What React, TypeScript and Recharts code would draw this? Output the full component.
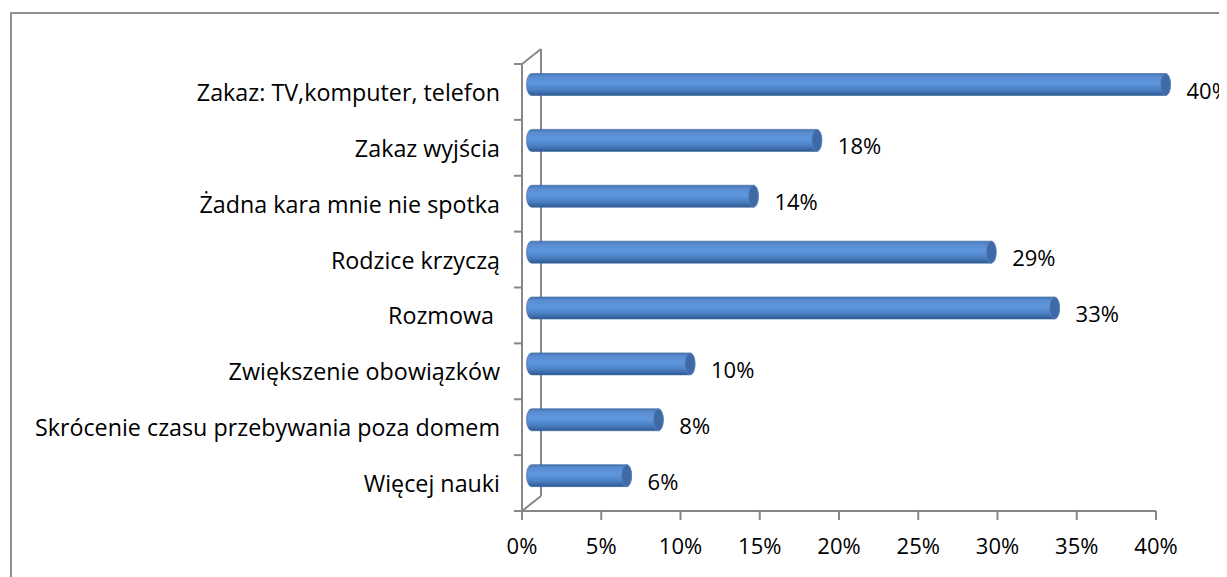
import { BarChart, Bar, XAxis, YAxis, LabelList, Customized } from 'recharts';

const categories = [
  'Zakaz: TV,komputer, telefon',
  'Zakaz wyjścia',
  'Żadna kara mnie nie spotka',
  'Rodzice krzyczą',
  'Rozmowa ',
  'Zwiększenie obowiązków',
  'Skrócenie czasu przebywania poza domem',
  'Więcej nauki',
];
const values = [40, 18, 14, 29, 33, 10, 8, 6];
const xTicks = [0, 5, 10, 15, 20, 25, 30, 35, 40];

const data = categories.map((name, i) => ({ name, value: values[i] }));

const W = 1219;
const H = 569;
const LEFT = 514;
const TOP = 56;
const RIGHT = 1148;
const BOTTOM = 503;
const XH = 40;
const DX = 19;
const DY = -15;
const FONT = '"Open Sans", sans-serif';
const AXIS = '#878787';

const CylinderBar = (props: any) => {
  const { x, y, width, height } = props;
  const rx = 5;
  const x0 = x + DX / 2;
  const y0 = y + DY / 2;
  const x1 = x0 + width;
  const ry = height / 2;
  const d = `M${x0},${y0} L${x1},${y0} A${rx},${ry} 0 0 1 ${x1},${y0 + height} L${x0},${y0 + height} A${rx},${ry} 0 0 1 ${x0},${y0} Z`;
  return (
    <g>
      <path d={d} fill="url(#cyl)" stroke="#3b6699" strokeWidth={0.6} />
      <ellipse cx={x1} cy={y0 + ry} rx={rx} ry={ry} fill="#3f6aa5" stroke="#5a86c4" strokeWidth={0.8} />
    </g>
  );
};

const ValueLabel = (props: any) => {
  const { x, y, width, height, value } = props;
  return (
    <text
      x={x + width + DX / 2 + 21}
      y={y + DY / 2 + height / 2 + 5}
      fontSize={22}
      fill="#000"
      fontFamily={FONT}
      dominantBaseline="central"
    >
      {value}%
    </text>
  );
};

const CategoryTick = (props: any) => {
  const { x, y, payload } = props;
  return (
    <text
      x={x}
      y={y}
      textAnchor="end"
      dominantBaseline="central"
      fontSize={23.3}
      fill="#000"
      fontFamily={FONT}
      xmlSpace="preserve"
      style={{ whiteSpace: 'pre' }}
    >
      {payload.value}
    </text>
  );
};

const Walls = () => {
  const band = (BOTTOM - TOP) / categories.length;
  const ticks = Array.from({ length: categories.length + 1 }, (_, i) => TOP + i * band);
  return (
    <g stroke={AXIS} strokeWidth={2} fill="none">
      <line x1={LEFT + DX} y1={TOP + DY} x2={LEFT + DX} y2={BOTTOM + DY} />
      <line x1={LEFT} y1={TOP} x2={LEFT + DX} y2={TOP + DY} />
      <line x1={LEFT} y1={BOTTOM} x2={LEFT + DX} y2={BOTTOM + DY} />
      {ticks.map((t, i) => (
        <line key={i} x1={LEFT - 8} y1={t} x2={LEFT} y2={t} />
      ))}
    </g>
  );
};

export default function App() {
  return (
    <div style={{ position: 'relative', width: W, height: H, overflow: 'hidden' }}>
      <div
        style={{
          position: 'absolute',
          left: 2,
          top: 4,
          width: 1400,
          height: 800,
          borderLeft: '2px solid #8f8f8f',
          borderTop: '2px solid #8f8f8f',
        }}
      />
      <BarChart
        width={W}
        height={H}
        data={data}
        layout="vertical"
        margin={{ top: TOP, right: W - RIGHT, bottom: H - BOTTOM - XH, left: 0 }}
        barSize={22}
        style={{ fontFamily: FONT, position: 'absolute', left: 0, top: 0 }}
      >
        <defs>
          <linearGradient id="cyl" x1="0" y1="0" x2="0" y2="1">
            <stop offset="0%" stopColor="#4474b3" />
            <stop offset="15%" stopColor="#5a8cd1" />
            <stop offset="45%" stopColor="#5f97de" />
            <stop offset="75%" stopColor="#4b7fc2" />
            <stop offset="100%" stopColor="#2e5a93" />
          </linearGradient>
        </defs>
        <XAxis
          type="number"
          domain={[0, 40]}
          ticks={xTicks}
          tickFormatter={(v: number) => `${v}%`}
          height={XH}
          axisLine={{ stroke: AXIS, strokeWidth: 2 }}
          tickLine={{ stroke: AXIS, strokeWidth: 2 }}
          tickSize={9}
          tickMargin={18}
          tick={{ fill: '#000', fontSize: 22 }}
          interval={0}
        />
        <YAxis
          type="category"
          dataKey="name"
          width={LEFT}
          axisLine={{ stroke: AXIS, strokeWidth: 2 }}
          tickLine={false}
          tickSize={0}
          tickMargin={22}
          tick={<CategoryTick />}
          interval={0}
        />
        <Customized component={<Walls />} />
        <Bar dataKey="value" shape={<CylinderBar />} isAnimationActive={false}>
          <LabelList dataKey="value" content={<ValueLabel />} />
        </Bar>
      </BarChart>
    </div>
  );
}
